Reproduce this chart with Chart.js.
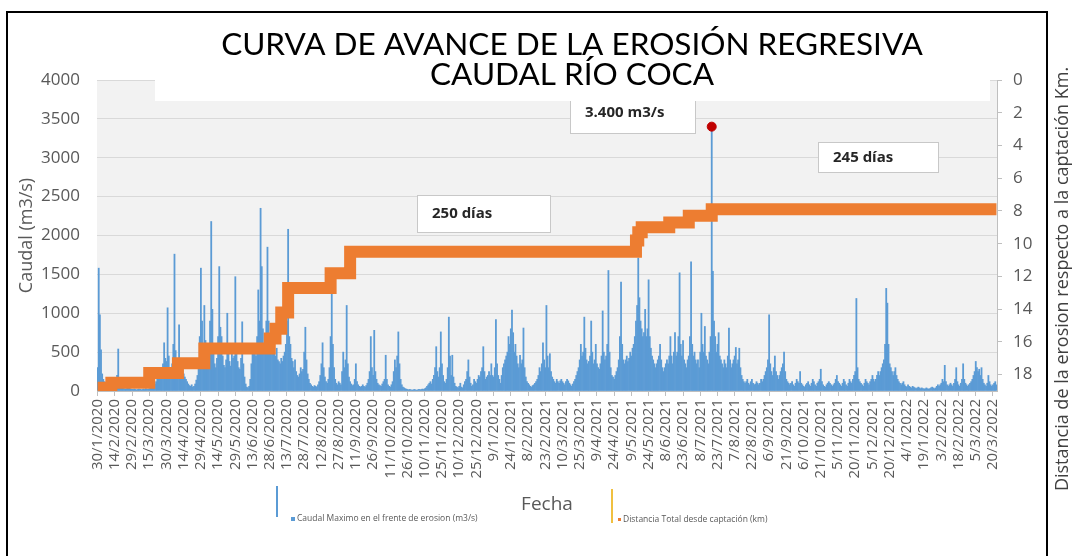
<!DOCTYPE html>
<html>
<head>
<meta charset="utf-8">
<script src="https://cdn.jsdelivr.net/npm/chart.js@4.4.1/dist/chart.umd.min.js"></script>
<style>
  html, body { margin: 0; padding: 0; background: #fff; }
  #wrap { width: 1077px; height: 556px; }
</style>
</head>
<body>
<div id="wrap"><canvas id="grafico" width="1077" height="556"></canvas></div>
<script>
// caudal maximo diario (m3/s), un valor por dia desde 30/1/2020 hasta 23/3/2022
const caudal = [
  300,1580,980,530,220,150,120,90,70,60,50,45,40,35,40,30,60,200,540,150,
  60,40,35,30,25,30,60,110,40,25,20,20,25,20,15,20,25,20,15,20,
  25,20,30,25,20,30,40,35,50,70,90,120,160,200,260,300,240,350,620,420,
  380,1070,450,300,280,350,600,1760,520,330,400,850,420,300,260,220,180,150,120,90,
  70,60,80,50,60,90,140,200,280,700,1580,900,600,1100,650,450,380,520,900,2180,
  1050,480,350,300,420,700,1600,820,700,450,330,300,400,1000,550,380,320,600,420,450,
  1470,600,380,300,280,420,890,350,180,90,50,40,60,150,350,480,520,600,450,700,
  1300,900,2350,1600,800,600,650,900,1850,900,700,550,700,520,480,450,550,400,380,350,
  420,380,450,500,600,900,2080,700,600,420,380,300,400,250,200,180,220,300,250,280,
  500,820,400,220,150,100,80,60,50,70,60,50,80,120,200,350,620,300,180,120,
  100,150,300,700,1300,600,300,150,100,80,120,100,80,250,500,300,400,1100,350,180,
  120,90,70,80,150,350,120,80,60,50,60,80,60,50,70,100,150,250,700,300,
  200,780,250,150,100,80,70,60,90,120,150,460,150,80,60,50,80,120,250,400,
  300,450,760,350,150,80,50,40,30,25,20,15,20,15,10,15,20,15,10,15,
  20,15,20,25,20,30,40,60,80,100,120,90,150,200,300,570,250,180,300,760,
  350,200,120,100,150,300,950,450,200,460,180,100,60,50,40,60,100,50,40,80,
  120,150,250,400,180,100,60,80,150,120,100,150,200,180,250,300,570,250,150,180,
  200,250,200,350,200,180,300,920,350,200,150,100,200,300,350,400,450,500,700,600,
  800,1040,750,500,600,450,350,300,460,350,400,810,300,180,120,100,80,60,50,70,
  80,100,120,150,200,300,250,350,620,400,300,1100,450,300,480,250,180,150,120,100,
  150,120,100,130,150,120,100,80,120,150,130,100,80,60,90,120,150,200,250,300,
  400,600,450,500,950,550,400,350,380,450,900,500,350,400,600,350,300,280,350,450,
  1030,500,400,450,600,1550,500,300,200,180,150,200,250,300,400,700,1400,600,400,350,
  400,450,380,420,500,450,550,600,700,900,1100,1710,1200,900,800,700,750,1050,700,800,
  1430,700,550,450,400,350,300,350,400,450,600,400,300,250,300,350,400,350,450,700,
  450,350,500,750,450,500,700,1520,600,450,650,400,350,300,400,450,700,1660,600,450,
  500,400,350,400,300,500,1000,600,500,830,450,400,350,500,700,3400,1540,900,700,500,
  600,750,450,400,350,300,400,350,300,450,810,400,300,350,400,450,560,350,400,550,
  300,200,150,120,100,120,150,100,80,120,150,100,80,90,120,100,80,100,150,120,
  150,200,250,300,400,980,350,250,200,300,450,250,200,150,200,250,300,350,500,250,
  150,120,100,80,100,120,80,60,100,150,120,100,250,100,80,60,50,80,100,120,
  80,60,100,150,120,80,60,100,120,150,280,120,80,60,50,80,100,120,100,80,
  60,80,100,150,200,120,100,80,60,100,150,120,80,60,100,150,120,100,150,200,
  250,1190,300,150,120,100,80,60,100,150,120,100,80,120,150,200,150,120,150,200,
  250,200,250,300,350,400,600,1320,1130,600,350,300,250,200,250,300,200,150,120,100,
  80,100,120,80,60,50,80,60,50,40,60,50,40,30,40,50,40,30,40,30,
  25,30,40,30,25,30,40,50,40,30,40,60,80,60,80,100,150,120,330,120,
  80,60,80,100,80,60,100,150,300,120,80,60,100,150,350,150,100,80,60,80,
  100,120,150,200,250,380,300,250,280,200,300,150,100,80,60,100,200,120,80,60,
  80,100,120,80
];

// distancia del frente de erosion a la captacion (km), fechas en que cambia
const distFechas = ['30/1/2020','11/2/2020','15/3/2020','9/4/2020','2/5/2020','28/6/2020','3/7/2020',
  '8/7/2020','14/7/2020','20/8/2020','6/9/2020','13/5/2021','15/5/2021','18/5/2021','11/6/2021',
  '28/6/2021','18/7/2021','23/3/2022'];
const distKm = [18.8, 18.5, 17.9, 17.3, 16.4, 15.8, 15.2, 14.2, 12.7, 11.8, 10.5, 9.8, 9.3, 9.0, 8.7, 8.3, 7.9, 7.9];

const picoFecha = '18/7/2021';
const picoCaudal = 3400;

const etiquetasFecha = ['30/1/2020','14/2/2020','29/2/2020','15/3/2020','30/3/2020','14/4/2020','29/4/2020',
  '14/5/2020','29/5/2020','13/6/2020','28/6/2020','13/7/2020','28/7/2020','12/8/2020','27/8/2020',
  '11/9/2020','26/9/2020','11/10/2020','26/10/2020','10/11/2020','25/11/2020','10/12/2020','25/12/2020',
  '9/1/2021','24/1/2021','8/2/2021','23/2/2021','10/3/2021','25/3/2021','9/4/2021','24/4/2021',
  '9/5/2021','24/5/2021','8/6/2021','23/6/2021','8/7/2021','23/7/2021','7/8/2021','22/8/2021',
  '6/9/2021','21/9/2021','6/10/2021','21/10/2021','5/11/2021','20/11/2021','5/12/2021','20/12/2021',
  '4/1/2022','19/1/2022','3/2/2022','18/2/2022','5/3/2022','20/3/2022'];
const ticksCaudal = [0, 500, 1000, 1500, 2000, 2500, 3000, 3500, 4000];
const ticksKm = [0, 2, 4, 6, 8, 10, 12, 14, 16, 18];

const titulo = ['CURVA DE AVANCE DE LA EROSIÓN REGRESIVA', 'CAUDAL RÍO COCA'];

// fechas diarias del eje x
const fechas = [];
for (let d = new Date(Date.UTC(2020, 0, 30)); d <= Date.UTC(2022, 2, 23); d.setUTCDate(d.getUTCDate() + 1)) {
  fechas.push(d.getUTCDate() + '/' + (d.getUTCMonth() + 1) + '/' + d.getUTCFullYear());
}

Chart.defaults.font.family = "'Open Sans', sans-serif";
Chart.defaults.color = '#595959';

const fondo = {
  id: 'fondo',
  beforeDraw(chart) {
    const { ctx, chartArea: a } = chart;
    ctx.save();
    ctx.fillStyle = '#f2f2f2';
    ctx.fillRect(a.left, a.top, a.right - a.left, a.bottom - a.top);
    ctx.restore();
  }
};

function caja(ctx, x, y, w, h, texto, tx, ty) {
  ctx.fillStyle = '#fff';
  ctx.fillRect(x, y, w, h);
  ctx.strokeStyle = '#c8c8c8';
  ctx.lineWidth = 1;
  ctx.strokeRect(x + 0.5, y + 0.5, w, h);
  ctx.fillStyle = '#262626';
  ctx.font = "bold 15px 'Open Sans'";
  ctx.textAlign = 'left';
  ctx.textBaseline = 'middle';
  ctx.fillText(texto, tx, ty);
}

const extras = {
  id: 'extras',
  afterDraw(chart) {
    const ctx = chart.ctx;
    ctx.save();
    caja(ctx, 570, 95, 125, 38, '3.400 m3/s', 585, 113);
    caja(ctx, 417, 195, 133, 37, '250 días', 432, 214);
    caja(ctx, 818, 142, 120, 30, '245 días', 833, 158);

    // titulo
    ctx.fillStyle = '#fff';
    ctx.fillRect(155, 14, 835, 87);
    ctx.fillStyle = '#000';
    ctx.font = "31.5px Lato";
    ctx.textAlign = 'center';
    ctx.textBaseline = 'middle';
    ctx.fillText(titulo[0], 572, 45);
    ctx.fillText(titulo[1], 572, 75);

    // marco
    ctx.strokeStyle = '#000';
    ctx.lineWidth = 2;
    ctx.beginPath();
    ctx.moveTo(7, 556);
    ctx.lineTo(7, 12);
    ctx.lineTo(1047, 12);
    ctx.lineTo(1047, 556);
    ctx.stroke();

    // titulo eje derecho
    ctx.save();
    ctx.translate(1063, 279);
    ctx.rotate(-Math.PI / 2);
    ctx.fillStyle = '#404040';
    ctx.font = "18px 'Open Sans'";
    ctx.fillText('Distancia de la erosion respecto a la captación Km.', 0, 0);
    ctx.restore();

    // leyenda
    ctx.lineWidth = 2;
    ctx.strokeStyle = '#5b9bd5';
    ctx.beginPath(); ctx.moveTo(277, 486); ctx.lineTo(277, 517); ctx.stroke();
    ctx.strokeStyle = '#f0c040';
    ctx.beginPath(); ctx.moveTo(612, 489); ctx.lineTo(612, 523); ctx.stroke();
    ctx.fillStyle = '#5b9bd5';
    ctx.fillRect(291, 517, 4, 4);
    ctx.fillStyle = '#ed7d31';
    ctx.fillRect(618, 518, 3, 3);
    ctx.fillStyle = '#595959';
    ctx.font = "8.5px 'Open Sans'";
    ctx.textAlign = 'left';
    ctx.fillText('Caudal Maximo en el frente de erosion (m3/s)', 297, 519);
    ctx.fillText('Distancia Total desde captación (km)', 623, 520);
    ctx.restore();
  }
};

new Chart(document.getElementById('grafico'), {
  type: 'bar',
  data: {
    labels: fechas,
    datasets: [
      {
        type: 'line',
        label: 'Pico',
        data: [{ x: picoFecha, y: picoCaudal }],
        yAxisID: 'y',
        showLine: false,
        pointRadius: 4.5,
        pointBackgroundColor: '#c00000',
        pointBorderColor: '#c00000',
        order: 0
      },
      {
        type: 'line',
        label: 'Distancia Total desde captación (km)',
        data: distFechas.map((f, i) => ({ x: f, y: distKm[i] })),
        yAxisID: 'y2',
        borderColor: '#ed7d31',
        borderWidth: 12,
        stepped: true,
        pointRadius: 0,
        order: 1
      },
      {
        label: 'Caudal Maximo en el frente de erosion (m3/s)',
        data: caudal,
        yAxisID: 'y',
        backgroundColor: '#5b9bd5',
        barPercentage: 1,
        categoryPercentage: 1,
        order: 2
      }
    ]
  },
  options: {
    responsive: false,
    animation: false,
    devicePixelRatio: 1,
    layout: { padding: { top: 80, left: 0, right: 0, bottom: 0 } },
    plugins: { legend: { display: false }, tooltip: { enabled: false } },
    scales: {
      x: {
        offset: true,
        afterFit: s => { s.height = 165; },
        afterBuildTicks: s => { s.ticks = s.ticks.filter(t => etiquetasFecha.includes(fechas[t.value])); },
        ticks: { autoSkip: false, minRotation: 90, maxRotation: 90, padding: 3, font: { size: 15 } },
        grid: { drawOnChartArea: false, offset: false, tickLength: 5, color: '#bfbfbf' },
        border: { color: '#bfbfbf' },
        title: { display: true, text: 'Fecha', font: { size: 19 }, padding: { top: 0, bottom: 40 } }
      },
      y: {
        min: 0,
        max: 4000,
        afterFit: s => { s.width = 97; },
        afterBuildTicks: s => { s.ticks = ticksCaudal.map(v => ({ value: v })); },
        ticks: { padding: 17, font: { size: 17 }, callback: v => String(v) },
        grid: { color: '#d9d9d9', drawTicks: false },
        border: { display: false },
        title: { display: true, text: 'Caudal (m3/s)', font: { size: 18 }, padding: { top: 16, bottom: 0 } }
      },
      y2: {
        position: 'right',
        reverse: true,
        min: 0,
        max: 19,
        afterFit: s => { s.width = 80; },
        afterBuildTicks: s => { s.ticks = ticksKm.map(v => ({ value: v })); },
        ticks: { padding: 11, font: { size: 17 }, callback: v => String(v) },
        grid: { drawOnChartArea: false, tickLength: 5, color: '#bfbfbf' },
        border: { color: '#bfbfbf' }
      }
    }
  },
  plugins: [fondo, extras]
});
</script>
</body>
</html>
